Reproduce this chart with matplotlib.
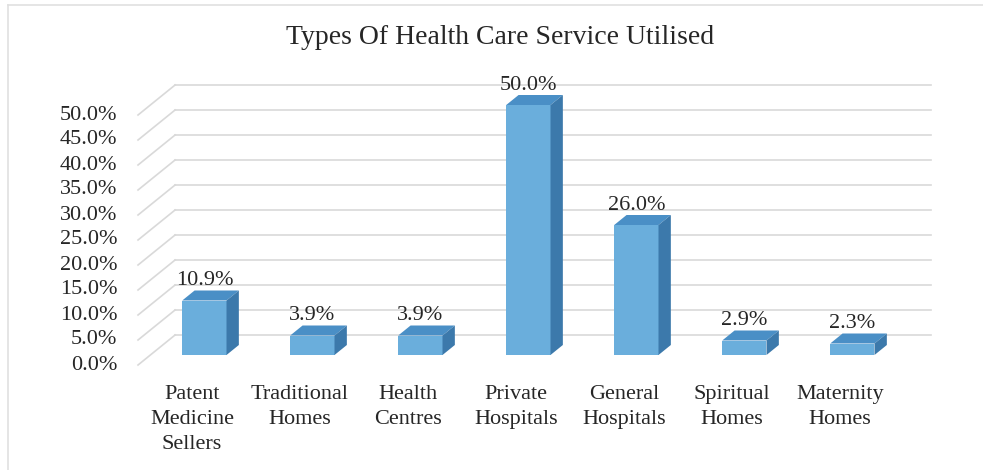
import matplotlib.pyplot as plt
from matplotlib.patches import Polygon
from matplotlib.lines import Line2D

plt.rcParams["font.family"] = ["Liberation Serif", "DejaVu Serif"]

categories = [
    "Patent\nMedicine\nSellers",
    "Traditional\nHomes",
    "Health\nCentres",
    "Private\nHospitals",
    "General\nHospitals",
    "Spiritual\nHomes",
    "Maternity\nHomes",
]
values = [10.9, 3.9, 3.9, 50.0, 26.0, 2.9, 2.3]
y_ticks = [0, 5, 10, 15, 20, 25, 30, 35, 40, 45, 50]

FRONT = "#6aaedc"
TOP = "#4a8fc6"
SIDE = "#3c79ab"
GRID = "#d9d9d9"
TEXT = "#262626"

# pseudo-3d depth of the floor (category units, percent units)
DEPTH_X = 0.343
DEPTH_Y = 6.0
BAR_W = 0.41

fig = plt.figure(figsize=(9.83, 4.70), dpi=100)
ax = fig.add_axes([0, 0, 1, 1])
ax.set_xlim(-1.778, 7.324)
ax.set_ylim(-21, 73)
ax.axis("off")

n = len(categories)
left, right = -0.5, n - 0.5

# back wall gridlines plus the diagonal floor/side lines
for t in y_ticks:
    ax.plot([left + DEPTH_X, right + DEPTH_X], [t + DEPTH_Y, t + DEPTH_Y],
            color=GRID, lw=1.2, zorder=1)
    ax.plot([left, left + DEPTH_X], [t, t + DEPTH_Y], color=GRID, lw=1.2, zorder=1)
    ax.text(-0.69, t, f"{t:.1f}%", ha="right", va="center",
            fontsize=16, color=TEXT)

# bars sit in the middle third of the floor depth
fx, fy = DEPTH_X / 3, DEPTH_Y / 3
bx, by = DEPTH_X / 3, DEPTH_Y / 3
for i, v in enumerate(values):
    x0 = i - BAR_W / 2 + fx
    x1 = i + BAR_W / 2 + fx
    y0 = fy
    y1 = v + fy
    front = Polygon([(x0, y0), (x1, y0), (x1, y1), (x0, y1)],
                    closed=True, facecolor=FRONT, edgecolor="none", zorder=3)
    top = Polygon([(x0, y1), (x1, y1), (x1 + bx, y1 + by), (x0 + bx, y1 + by)],
                  closed=True, facecolor=TOP, edgecolor="none", zorder=3)
    side = Polygon([(x1, y0), (x1 + bx, y0 + by), (x1 + bx, y1 + by), (x1, y1)],
                   closed=True, facecolor=SIDE, edgecolor="none", zorder=3)
    for p in (front, top, side):
        ax.add_patch(p)
    ax.text(i + fx, y1 + by + 2.0, f"{v:.1f}%", ha="center", va="center",
            fontsize=16, color=TEXT, zorder=4)
    ax.text(i, -4.0, categories[i], ha="center", va="top",
            fontsize=16, color=TEXT, linespacing=1.42)

ax.text(2.85, 65.5, "Types Of Health Care Service Utilised", ha="center",
        va="center", fontsize=20, color=TEXT)

# thin chart-area frame on the left and top
fig.add_artist(Line2D([8 / 983, 8 / 983], [0, 1 - 5 / 470],
                      transform=fig.transFigure, color="#e0e0e0", lw=1.2))
fig.add_artist(Line2D([8 / 983, 1], [1 - 5 / 470, 1 - 5 / 470],
                      transform=fig.transFigure, color="#e0e0e0", lw=1.2))

fig.savefig("out.png", dpi=100, facecolor="white")
